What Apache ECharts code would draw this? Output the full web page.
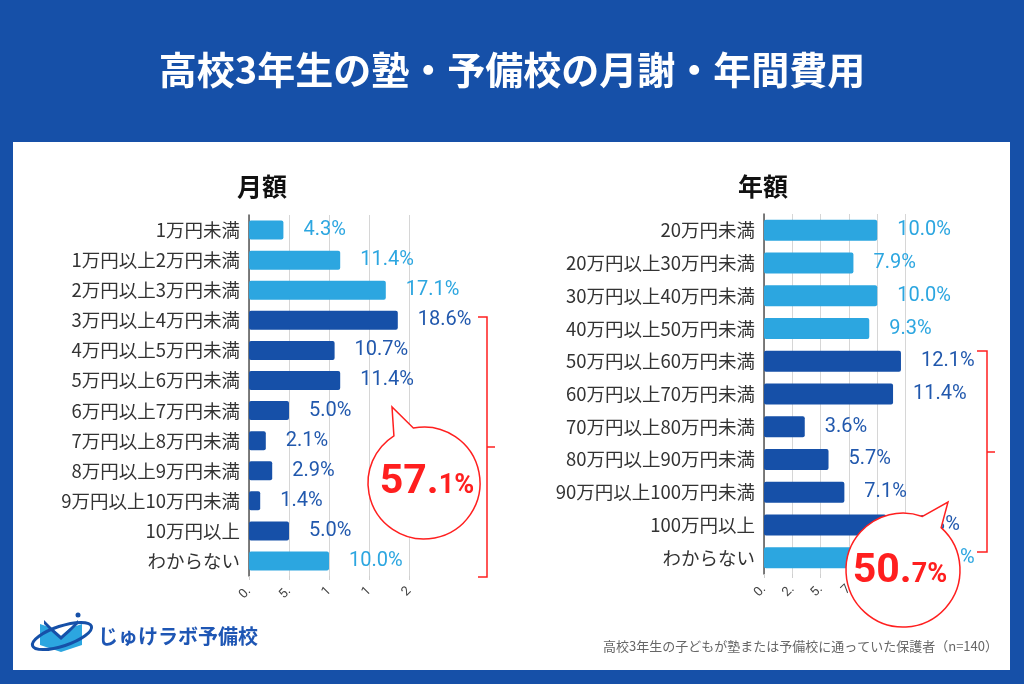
<!DOCTYPE html>
<html><head><meta charset="utf-8">
<script src="https://cdn.jsdelivr.net/npm/echarts@6/dist/echarts.min.js"></script>
<style>
html,body{margin:0;padding:0;background:#1650a8;overflow:hidden;}
#panel{position:absolute;left:13px;top:142px;width:997px;height:528px;background:#fff;}
#c{position:absolute;left:0;top:0;width:1024px;height:684px;}
</style>
</head><body><div id="panel"></div><div id="c"></div>
<script>
// ---- data ----
const monthlyCategories = ['1万円未満','1万円以上2万円未満','2万円以上3万円未満','3万円以上4万円未満','4万円以上5万円未満','5万円以上6万円未満','6万円以上7万円未満','7万円以上8万円未満','8万円以上9万円未満','9万円以上10万円未満','10万円以上','わからない'];
const monthlyValues = [4.3, 11.4, 17.1, 18.6, 10.7, 11.4, 5.0, 2.1, 2.9, 1.4, 5.0, 10.0];
const monthlyTickLabels = ['0.', '5.', '1', '1', '2'];
const monthlyHighlight = [3, 10]; // first/last index of bracketed group
const monthlyTotalMain = '57.';
const monthlyTotalSub = '1%';

const annualCategories = ['20万円未満','20万円以上30万円未満','30万円以上40万円未満','40万円以上50万円未満','50万円以上60万円未満','60万円以上70万円未満','70万円以上80万円未満','80万円以上90万円未満','90万円以上100万円未満','100万円以上','わからない'];
const annualValues = [10.0, 7.9, 10.0, 9.3, 12.1, 11.4, 3.6, 5.7, 7.1, 10.8, 12.1];
const annualTickLabels = ['0.', '2.', '5.', '7', '1', '1'];
const annualHighlight = [4, 9];
const annualTotalMain = '50.';
const annualTotalSub = '7%';

const titleText = '高校3年生の塾・予備校の月謝・年間費用';
const leftSubtitle = '月額';
const rightSubtitle = '年額';
const footnote = '高校3年生の子どもが塾または予備校に通っていた保護者（n=140）';
const logoText = 'じゅけラボ予備校';

// ---- styles ----
const LIGHT = '#2ca6e0', DARK = '#1650a8';
const LIGHT_LBL = '#2ca6e0', DARK_LBL = '#2158ad';
const RED = '#ff1f1f';
const CJK = '"Noto Sans CJK JP", "Noto Sans", sans-serif';

function barData(values, hl) {
  return values.map((v, i) => {
    const dark = i >= hl[0] && i <= hl[1];
    return {
      value: v,
      itemStyle: { color: dark ? DARK : LIGHT },
      label: { color: dark ? DARK_LBL : LIGHT_LBL }
    };
  });
}

function bubblePath(cx, cy, r, aDeg, bDeg, tx, ty) {
  const a = aDeg * Math.PI / 180, b = bDeg * Math.PI / 180;
  const ax = cx + r * Math.cos(a), ay = cy + r * Math.sin(a);
  const bx = cx + r * Math.cos(b), by = cy + r * Math.sin(b);
  return `M ${ax} ${ay} L ${tx} ${ty} L ${bx} ${by} A ${r} ${r} 0 1 1 ${ax} ${ay} Z`;
}

function bubble(cx, cy, r, aDeg, bDeg, tx, ty, tcx, tcy, main, sub) {
  return [
    { type: 'path', shape: { pathData: bubblePath(cx, cy, r, aDeg, bDeg, tx, ty) },
      style: { fill: '#fff', stroke: RED, lineWidth: 1.5 } },
    { type: 'text', x: tcx, y: tcy,
      style: {
        text: '{a|' + main + '}{b|' + sub + '}',
        align: 'center', verticalAlign: 'middle',
        rich: {
          a: { fontSize: 41, fontWeight: 'bold', fill: RED, fontFamily: 'Roboto', verticalAlign: 'bottom', lineHeight: 44 },
          b: { fontSize: 27, fontWeight: 'bold', fill: RED, fontFamily: 'Roboto', verticalAlign: 'bottom', lineHeight: 30, padding: [0, 0, 3, 0] }
        }
      } }
  ];
}

const valueLabel = {
  show: true, position: 'right', distance: 20,
  fontSize: 20, fontFamily: 'Roboto',
  formatter: p => p.value.toFixed(1) + '%'
};

const catLabel = { fontSize: 18.5, color: '#333', fontFamily: CJK, margin: 9 };

const chart = echarts.init(document.getElementById('c'), null, { renderer: 'canvas' });
chart.setOption({
  backgroundColor: 'transparent',
  animation: false,
  grid: [
    { left: 249, top: 215, width: 160, height: 361 },
    { left: 764, top: 214, width: 141.5, height: 360 }
  ],
  xAxis: [
    { gridIndex: 0, type: 'value', min: 0, max: 20, interval: 5,
      axisLine: { show: false },
      axisTick: { show: true, length: 4, lineStyle: { color: '#cfcfcf' } },
      splitLine: { lineStyle: { color: '#d6d6d6' } },
      axisLabel: { rotate: 45, margin: 13, fontSize: 13, color: '#444', fontFamily: 'Roboto',
        formatter: v => monthlyTickLabels[Math.round(v / 5)] } },
    { gridIndex: 1, type: 'value', min: 0, max: 12.5, interval: 2.5,
      axisLine: { show: false },
      axisTick: { show: true, length: 4, lineStyle: { color: '#cfcfcf' } },
      splitLine: { lineStyle: { color: '#d6d6d6' } },
      axisLabel: { rotate: 45, margin: 13, fontSize: 13, color: '#444', fontFamily: 'Roboto',
        formatter: v => annualTickLabels[Math.round(v / 2.5)] } }
  ],
  yAxis: [
    { gridIndex: 0, type: 'category', data: monthlyCategories, inverse: true,
      axisLine: { lineStyle: { color: '#555', width: 1.5 } }, axisTick: { show: false },
      axisLabel: catLabel },
    { gridIndex: 1, type: 'category', data: annualCategories, inverse: true,
      axisLine: { lineStyle: { color: '#555', width: 1.5 } }, axisTick: { show: false },
      axisLabel: catLabel }
  ],
  series: [
    { type: 'bar', xAxisIndex: 0, yAxisIndex: 0, barWidth: 19,
      itemStyle: { borderRadius: 2 }, label: valueLabel,
      data: barData(monthlyValues, monthlyHighlight) },
    { type: 'bar', xAxisIndex: 1, yAxisIndex: 1, barWidth: 21,
      itemStyle: { borderRadius: 2 }, label: valueLabel,
      data: barData(annualValues, annualHighlight) },
    { type: 'custom', coordinateSystem: 'none', z: 20, silent: true, data: [0],
      renderItem: () => ({ type: 'group', children: [
        ...bubble(424, 483, 56, -122.5, -101, 392, 407, 427, 481, monthlyTotalMain, monthlyTotalSub),
        ...bubble(903, 570, 57, -70, -48, 948, 502, 900, 570, annualTotalMain, annualTotalSub)
      ] }) }
  ],
  graphic: [
    { type: 'text', x: 512, y: 70, style: { text: titleText, fill: '#fff', fontSize: 38, fontWeight: 'bold', fontFamily: CJK, align: 'center', verticalAlign: 'middle', textAlign: 'center', textVerticalAlign: 'middle' } },
    { type: 'text', x: 262, y: 186, style: { text: leftSubtitle, fill: '#111', fontSize: 25, fontWeight: 'bold', fontFamily: CJK, align: 'center', verticalAlign: 'middle', textAlign: 'center', textVerticalAlign: 'middle' } },
    { type: 'text', x: 763, y: 186, style: { text: rightSubtitle, fill: '#111', fontSize: 25, fontWeight: 'bold', fontFamily: CJK, align: 'center', verticalAlign: 'middle', textAlign: 'center', textVerticalAlign: 'middle' } },
    { type: 'text', x: 998, y: 646, style: { text: footnote, fill: '#666', fontSize: 13, fontFamily: CJK, align: 'right', verticalAlign: 'middle', textAlign: 'right', textVerticalAlign: 'middle' } },
    // brackets
    { type: 'polyline', z: 30, shape: { points: [[478, 317], [487, 317], [487, 577], [478, 577]] }, style: { stroke: RED, lineWidth: 1.5, fill: null } },
    { type: 'line', z: 30, shape: { x1: 487, y1: 447, x2: 495, y2: 447 }, style: { stroke: RED, lineWidth: 1.5 } },
    { type: 'polyline', z: 30, shape: { points: [[977, 351], [987, 351], [987, 552], [977, 552]] }, style: { stroke: RED, lineWidth: 1.5, fill: null } },
    { type: 'line', z: 30, shape: { x1: 987, y1: 452, x2: 995, y2: 452 }, style: { stroke: RED, lineWidth: 1.5 } },
    // logo
    { type: 'polygon', shape: { points: [[40, 624], [52, 628], [61, 636], [61, 652], [40, 645]] }, style: { fill: '#2ca6e0' } },
    { type: 'polygon', shape: { points: [[61, 636], [70, 628], [82, 624], [82, 645], [61, 652]] }, style: { fill: '#2ca6e0' } },
    { type: 'polygon', shape: { points: [[44, 620], [52, 628], [61, 636], [70, 628], [78, 620], [78, 624], [70, 632], [61, 640], [52, 632], [44, 624]] }, style: { fill: '#1650a8' } },
    { type: 'ellipse', shape: { cx: 62, cy: 636, rx: 31, ry: 10 }, rotation: 0.32, originX: 62, originY: 636, style: { stroke: '#1650a8', lineWidth: 3, fill: null } },
    { type: 'circle', shape: { cx: 78, cy: 615, r: 2.5 }, style: { fill: '#1650a8' } },
    { type: 'text', x: 98, y: 636, style: { text: logoText, fill: '#1e56b4', fontSize: 20, fontWeight: 'bold', fontFamily: CJK, align: 'left', verticalAlign: 'middle', textAlign: 'left', textVerticalAlign: 'middle' } }
  ]
});
</script>
</body></html>
